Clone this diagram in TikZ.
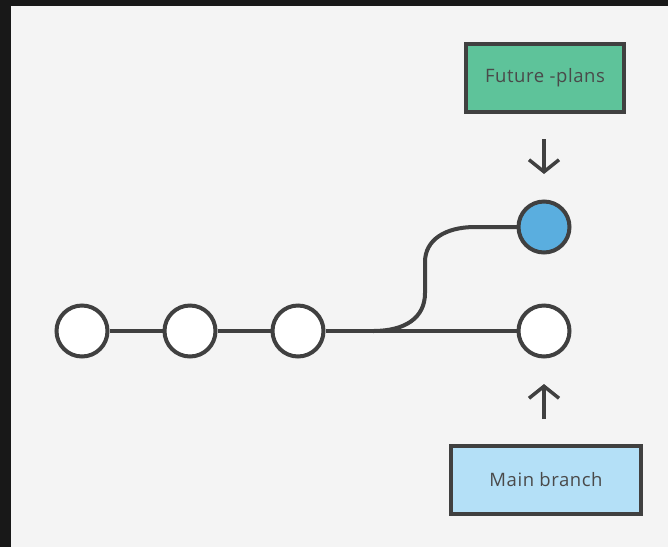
\documentclass[tikz,border=0pt]{standalone}
\usepackage{fontspec}
\setmainfont{Open Sans}[LetterSpace=3]
\usetikzlibrary{arrows.meta}
\definecolor{frame}{HTML}{181818}
\definecolor{bg}{HTML}{F4F4F4}
\definecolor{ink}{HTML}{404040}
\definecolor{txt}{HTML}{4A4A4A}
\definecolor{greenbox}{HTML}{5EC39A}
\definecolor{bluebox}{HTML}{B4E0F7}
\definecolor{bluedot}{HTML}{5AAEDF}
\begin{document}
\begin{tikzpicture}[x=1pt,y=-1pt,
  commit/.style={circle,draw=ink,line width=4pt,fill=white,minimum size=51pt,inner sep=0pt},
  label box/.style={draw=ink,line width=4pt,inner sep=0pt,font=\fontsize{18.5}{22}\selectfont,text=txt},
  link/.style={draw=ink,line width=4pt,line join=round},
  pointer/.style={draw=ink,line width=3.5pt,-{Straight Barb[length=12pt,width=30pt,line width=3.5pt]}}]
\useasboundingbox (0,0) rectangle (668,547);
\fill[frame] (0,0) rectangle (668,547);
\fill[bg] (11,6) rectangle (668,547);
\coordinate (fork) at (373,331);
\draw[link] (fork) .. controls (405,331) and (425,318) .. (425,293) -- (425,262) .. controls (425,240) and (445,227) .. (475,227) -- (544,227);
\node[commit] (c1) at (82,331) {};
\node[commit] (c2) at (190,331) {};
\node[commit] (c3) at (298,331) {};
\node[commit] (m) at (544,331) {};
\node[commit,fill=bluedot] (f) at (544,227) {};
\draw[link] (c1) -- (c2);
\draw[link] (c2) -- (c3);
\draw[link] (c3) -- (m);
\node[label box,fill=greenbox,minimum width=158pt,minimum height=68pt] (fp) at (545,78) {Future -plans};
\node[label box,fill=bluebox,minimum width=190pt,minimum height=68pt] (mb) at (546,480) {Main branch};
\coordinate (a1) at (544,139);
\coordinate (a1e) at (544,174);
\coordinate (a2) at (544,419);
\coordinate (a2e) at (544,384);
\draw[pointer] (a1) -- (a1e);
\draw[pointer] (a2) -- (a2e);
\end{tikzpicture}
\end{document}
